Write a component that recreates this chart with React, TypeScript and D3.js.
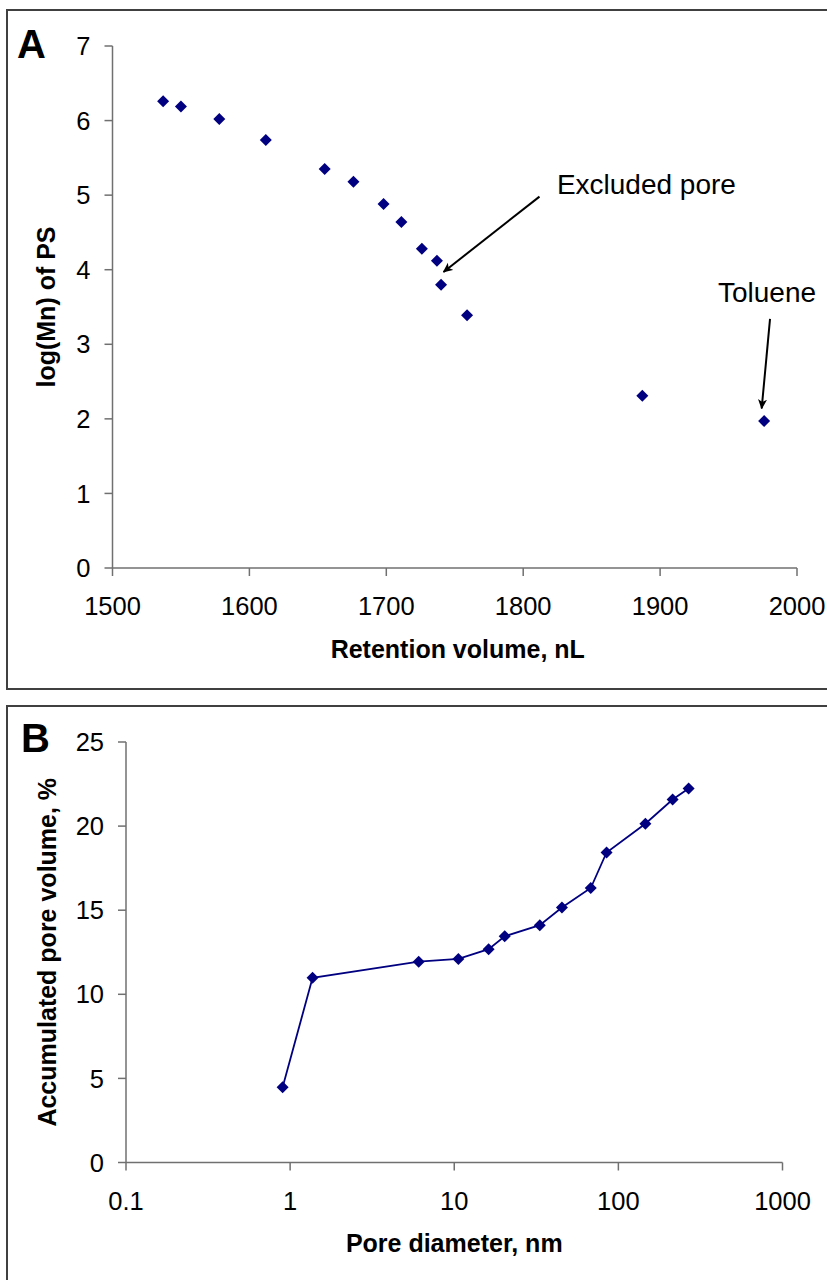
import React from "react";
import * as d3 from "d3";

// Panel A data: retention volume (nL) vs log(Mn) of PS
const retentionVolume = [1537, 1550, 1578, 1612, 1655, 1676, 1698, 1711, 1726, 1737, 1740, 1759, 1887, 1976];
const logMn = [6.26, 6.19, 6.02, 5.74, 5.35, 5.18, 4.88, 4.64, 4.28, 4.12, 3.8, 3.39, 2.31, 1.97];
const xTicksA = [1500, 1600, 1700, 1800, 1900, 2000];
const yTicksA = [0, 1, 2, 3, 4, 5, 6, 7];

// Panel B data: pore diameter (nm) vs accumulated pore volume (%)
const poreDiameter = [0.9, 1.37, 6.07, 10.6, 16.2, 20.3, 33.2, 45.3, 67.9, 84.7, 146, 214, 268];
const poreVolume = [4.47, 10.98, 11.94, 12.1, 12.68, 13.45, 14.11, 15.16, 16.32, 18.43, 20.14, 21.58, 22.23];
const xTicksB = [0.1, 1, 10, 100, 1000];
const yTicksB = [0, 5, 10, 15, 20, 25];

// Annotations (data coordinates of panel A)
const annotationLabels = ["Excluded pore", "Toluene"];
const annotationTextPos = [[1824.6, 5.02], [1942.3, 3.57]];
const annotationArrowFrom = [[1811.9, 4.98], [1980.3, 3.34]];
const annotationArrowTo = [[1741.8, 3.97], [1974.2, 2.14]];

const FONT = "'Liberation Sans', Arial, Helvetica, sans-serif";
const NAVY = "#000080";
const AXIS = "#707070";
const BORDER = "#404040";

function diamond(cx: number, cy: number, r: number) {
  return `M${cx},${cy - r}L${cx + r},${cy}L${cx},${cy + r}L${cx - r},${cy}Z`;
}

function fmtB(v: number) {
  return v < 1 ? String(v) : d3.format("d")(v);
}

export default function App() {
  // Panel A scales
  const xA = d3.scaleLinear().domain([1500, 2000]).range([112.5, 797]);
  const yA = d3.scaleLinear().domain([0, 7]).range([568, 46]);
  // Panel B scales
  const xB = d3.scaleLog().domain([0.1, 1000]).range([126, 782.5]);
  const yB = d3.scaleLinear().domain([0, 25]).range([1162.5, 742]);

  const lineB = d3
    .line<number>()
    .x((_, i) => xB(poreDiameter[i]))
    .y((d) => yB(d));

  const tickFont = 25.5;
  const titleFont = 25;

  return (
    <svg
      width={827}
      height={1280}
      style={{ position: "absolute", left: 0, top: 0, background: "#fff" }}
      fontFamily={FONT}
    >
      <defs>
        <marker id="arrow" viewBox="0 0 10 10" refX="9" refY="5" markerWidth="10" markerHeight="10" orient="auto-start-reverse" markerUnits="userSpaceOnUse">
          <path d="M0,0.5L10,5L0,9.5L2.5,5Z" fill="#000" />
        </marker>
      </defs>
      <rect x={0} y={0} width={827} height={1280} fill="#fff" />

      {/* Panel borders */}
      <rect x={7} y={10} width={840} height={679} fill="none" stroke={BORDER} strokeWidth={2} />
      <rect x={7} y={706} width={840} height={600} fill="none" stroke={BORDER} strokeWidth={2} />

      {/* ===== Panel A ===== */}
      <text x={17} y={58} fontSize={40} fontWeight="bold">A</text>

      {/* y axis */}
      <line x1={xA(1500)} x2={xA(1500)} y1={yA(7)} y2={yA(0)} stroke={AXIS} strokeWidth={1.5} />
      {yTicksA.map((t) => (
        <g key={"ya" + t}>
          <line x1={xA(1500) - 8} x2={xA(1500)} y1={yA(t)} y2={yA(t)} stroke={AXIS} strokeWidth={1.5} />
          <text x={xA(1500) - 22} y={yA(t)} dy="0.36em" textAnchor="end" fontSize={tickFont}>{t}</text>
        </g>
      ))}
      {/* x axis */}
      <line x1={xA(1500)} x2={xA(2000)} y1={yA(0)} y2={yA(0)} stroke={AXIS} strokeWidth={1.5} />
      {xTicksA.map((t) => (
        <g key={"xa" + t}>
          <line x1={xA(t)} x2={xA(t)} y1={yA(0)} y2={yA(0) + 8} stroke={AXIS} strokeWidth={1.5} />
          <text x={xA(t)} y={yA(0) + 47} textAnchor="middle" fontSize={tickFont}>{t}</text>
        </g>
      ))}
      <text x={(xA(1500) + xA(2000)) / 2 + 3} y={658} textAnchor="middle" fontSize={titleFont} fontWeight="bold">
        Retention volume, nL
      </text>
      <text
        transform={`translate(55,${(yA(0) + yA(7)) / 2}) rotate(-90)`}
        textAnchor="middle"
        fontSize={titleFont}
        fontWeight="bold"
      >
        log(Mn) of PS
      </text>

      {retentionVolume.map((v, i) => (
        <path key={"pa" + i} d={diamond(xA(v), yA(logMn[i]), 6)} fill={NAVY} />
      ))}

      {annotationLabels.map((lab, i) => (
        <g key={"ann" + i}>
          <text x={xA(annotationTextPos[i][0])} y={yA(annotationTextPos[i][1])} fontSize={28}>{lab}</text>
          <line
            x1={xA(annotationArrowFrom[i][0])}
            y1={yA(annotationArrowFrom[i][1])}
            x2={xA(annotationArrowTo[i][0])}
            y2={yA(annotationArrowTo[i][1])}
            stroke="#000"
            strokeWidth={2}
            markerEnd="url(#arrow)"
          />
        </g>
      ))}

      {/* ===== Panel B ===== */}
      <text x={21} y={752} fontSize={40} fontWeight="bold">B</text>

      <line x1={xB(0.1)} x2={xB(0.1)} y1={yB(25)} y2={yB(0)} stroke={AXIS} strokeWidth={1.5} />
      {yTicksB.map((t) => (
        <g key={"yb" + t}>
          <line x1={xB(0.1) - 8} x2={xB(0.1)} y1={yB(t)} y2={yB(t)} stroke={AXIS} strokeWidth={1.5} />
          <text x={xB(0.1) - 22} y={yB(t)} dy="0.36em" textAnchor="end" fontSize={tickFont}>{t}</text>
        </g>
      ))}
      <line x1={xB(0.1)} x2={xB(1000)} y1={yB(0)} y2={yB(0)} stroke={AXIS} strokeWidth={1.5} />
      {xTicksB.map((t) => (
        <g key={"xb" + t}>
          <line x1={xB(t)} x2={xB(t)} y1={yB(0)} y2={yB(0) + 8} stroke={AXIS} strokeWidth={1.5} />
          <text x={xB(t)} y={yB(0) + 47} textAnchor="middle" fontSize={tickFont}>{fmtB(t)}</text>
        </g>
      ))}
      <text x={(xB(0.1) + xB(1000)) / 2} y={1252} textAnchor="middle" fontSize={titleFont} fontWeight="bold">
        Pore diameter, nm
      </text>
      <text
        transform={`translate(56,${(yB(0) + yB(25)) / 2}) rotate(-90)`}
        textAnchor="middle"
        fontSize={titleFont}
        fontWeight="bold"
      >
        Accumulated pore volume, %
      </text>

      <path d={lineB(poreVolume) || ""} fill="none" stroke={NAVY} strokeWidth={1.8} />
      {poreDiameter.map((v, i) => (
        <path key={"pb" + i} d={diamond(xB(v), yB(poreVolume[i]), 6)} fill={NAVY} />
      ))}
    </svg>
  );
}
